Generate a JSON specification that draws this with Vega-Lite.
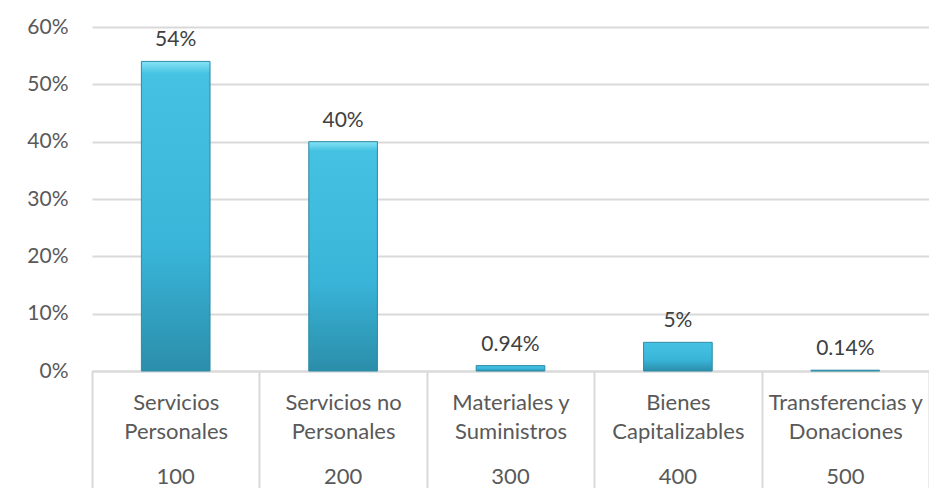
{
  "$schema": "https://vega.github.io/schema/vega-lite/v6.json",
  "width": 837,
  "height": 344,
  "autosize": {"type": "none"},
  "padding": {"left": 92, "top": 27, "right": 0, "bottom": 117},
  "background": "white",
  "data": {
    "values": [
      {"categoria": "Servicios Personales", "codigo": "100", "valor": 0.54},
      {"categoria": "Servicios no Personales", "codigo": "200", "valor": 0.40},
      {"categoria": "Materiales y Suministros", "codigo": "300", "valor": 0.0094},
      {"categoria": "Bienes Capitalizables", "codigo": "400", "valor": 0.05},
      {"categoria": "Transferencias y Donaciones", "codigo": "500", "valor": 0.0014}
    ]
  },
  "encoding": {
    "x": {
      "field": "categoria",
      "type": "nominal",
      "sort": null,
      "scale": {"paddingInner": 0, "paddingOuter": 0},
      "axis": {
        "title": null,
        "labelAngle": 0,
        "labelExpr": "isString(datum.value) ? split(replace(datum.value, regexp('^(.*) ([^ ]+)$'), '$1|$2'), '|') : ''",
        "labelBaseline": "top",
        "labelLineHeight": 29,
        "labelPadding": -96,
        "tickBand": "extent",
        "tickSize": 117,
        "tickColor": "#d9d9d9",
        "tickWidth": 2,
        "domainColor": "#d9d9d9",
        "domainWidth": 2,
        "labelFont": "Lato",
        "labelFontSize": 22,
        "labelColor": "#595959"
      }
    }
  },
  "layer": [
    {
      "mark": {
        "type": "bar",
        "width": {"band": 0.41},
        "stroke": "#2a8aa5",
        "strokeWidth": 1,
        "color": {
          "gradient": "linear",
          "x1": 0, "y1": 0, "x2": 0, "y2": 1,
          "stops": [
            {"offset": 0, "color": "#86e3f6"},
            {"offset": 0.04, "color": "#45c2e2"},
            {"offset": 0.6, "color": "#39b5d9"},
            {"offset": 1, "color": "#2b8eaa"}
          ]
        }
      },
      "encoding": {
        "y": {
          "field": "valor",
          "type": "quantitative",
          "scale": {"domain": [0, 0.6], "nice": false},
          "axis": {
            "title": null,
            "values": [0, 0.1, 0.2, 0.3, 0.4, 0.5, 0.6],
            "format": ".0%",
            "grid": true,
            "gridColor": "#d9d9d9",
            "gridWidth": 2,
            "domain": false,
            "ticks": false,
            "labelPadding": 24,
            "labelFont": "Lato",
            "labelFontSize": 21,
            "labelColor": "#595959"
          }
        }
      }
    },
    {
      "mark": {
        "type": "text",
        "baseline": "middle",
        "dy": -21,
        "font": "Lato",
        "fontSize": 21,
        "color": "#404040"
      },
      "encoding": {
        "y": {"field": "valor", "type": "quantitative"},
        "text": {"field": "valor", "type": "quantitative", "format": ".2~%"}
      }
    },
    {
      "mark": {
        "type": "text",
        "baseline": "middle",
        "dy": 106,
        "font": "Lato",
        "fontSize": 22,
        "color": "#595959"
      },
      "encoding": {
        "y": {"datum": 0},
        "text": {"field": "codigo", "type": "nominal"}
      }
    }
  ],
  "config": {"view": {"stroke": null}}
}
